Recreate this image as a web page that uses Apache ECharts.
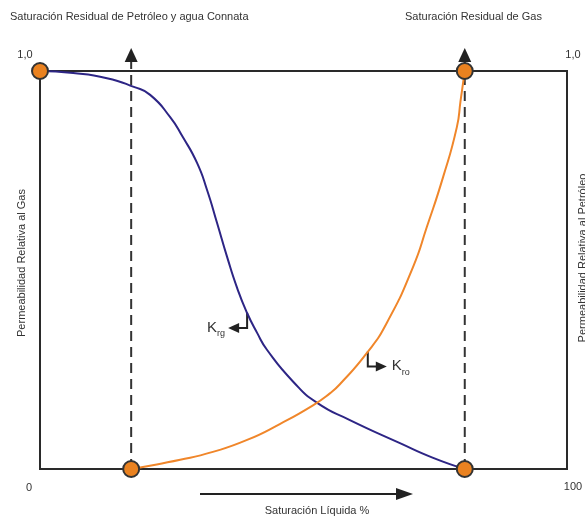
<!DOCTYPE html>
<html>
<head>
<meta charset="utf-8">
<script src="https://cdn.jsdelivr.net/npm/echarts@6/dist/echarts.min.js"></script>
<style>
    html, body {margin: 0; padding: 0; background: #fff;}
    #chart {width: 585px; height: 518px;}
</style>
</head>
<body>
<div id="chart"></div>
<script>
// Saturacion liquida (%) y permeabilidad relativa
var krgX = [0, 6.3, 12.7, 17.8, 20.9, 24.7, 27.1, 29.8, 31.7, 33.6, 35.5, 37.4, 39.3, 41.2, 43.1, 48.0, 52.6, 58.8, 68.3, 74.6, 80.6];
var krgY = [1.0, 0.995, 0.982, 0.960, 0.940, 0.884, 0.834, 0.769, 0.701, 0.618, 0.533, 0.455, 0.392, 0.342, 0.299, 0.220, 0.166, 0.123, 0.065, 0.028, 0];

var kroX = [17.3, 19.0, 26.6, 32.8, 39.3, 45.5, 51.8, 55.0, 56.9, 62.0, 65.8, 70.8, 73.4, 76.5, 79.1, 79.8, 80.6];
var kroY = [0, 0.004, 0.023, 0.043, 0.073, 0.113, 0.160, 0.190, 0.213, 0.291, 0.367, 0.508, 0.608, 0.734, 0.859, 0.925, 1.0];

// saturaciones residuales
var sorw = 17.3;   // petroleo y agua connata
var sgr = 80.6;    // gas

var endPoints = [[0, 1], [sgr, 1], [sorw, 0], [sgr, 0]];

// puntos donde salen las flechas de las etiquetas
var krgLabelAt = [39.3, 0.392];
var kroLabelAt = [62.2, 0.295];

var titleLeft = 'Saturación Residual de Petróleo y agua Connata';
var titleRight = 'Saturación Residual de Gas';
var xName = 'Saturación Líquida %';
var yNameLeft = 'Permeabilidad Relativa al Gas';
var yNameRight = 'Permeabilidad Relativa al Petróleo';

function pairs(xs, ys) {
    var out = [];
    for (var i = 0; i < xs.length; i++) {
        out.push([xs[i], ys[i]]);
    }
    return out;
}

function arrowLine(x) {
    return [
        {value: [x, 0], symbol: 'none'},
        {value: [x, 1.04], symbol: 'triangle', symbolSize: [13, 14]}
    ];
}

var font = 'Liberation Sans, Arial, sans-serif';
var txt = '#333';

var myChart = echarts.init(document.getElementById('chart'));

var option = {
    animation: false,
    textStyle: {fontFamily: font},
    grid: {
        left: 40, right: 18, top: 71, bottom: 49,
        show: true,
        borderColor: '#2a2a2a',
        borderWidth: 2,
        backgroundColor: 'transparent'
    },
    xAxis: {
        type: 'value', min: 0, max: 100,
        axisLine: {show: false}, axisTick: {show: false},
        axisLabel: {show: false}, splitLine: {show: false}
    },
    yAxis: {
        type: 'value', min: 0, max: 1,
        axisLine: {show: false}, axisTick: {show: false},
        axisLabel: {show: false}, splitLine: {show: false}
    },
    series: [
        {
            name: 'sorw',
            type: 'line',
            clip: false,
            silent: true,
            z: 1,
            lineStyle: {color: '#333', width: 2, type: [10, 6]},
            itemStyle: {color: '#222'},
            data: arrowLine(sorw)
        },
        {
            name: 'sgr',
            type: 'line',
            clip: false,
            silent: true,
            z: 1,
            lineStyle: {color: '#333', width: 2, type: [10, 6]},
            itemStyle: {color: '#222'},
            data: arrowLine(sgr)
        },
        {
            name: 'Krg',
            type: 'line',
            smooth: 0.55,
            symbol: 'none',
            z: 3,
            lineStyle: {color: '#2d2585', width: 2},
            data: pairs(krgX, krgY)
        },
        {
            name: 'Kro',
            type: 'line',
            smooth: 0.55,
            symbol: 'none',
            z: 3,
            lineStyle: {color: '#f0862a', width: 2},
            data: pairs(kroX, kroY)
        },
        {
            name: 'puntos',
            type: 'scatter',
            clip: false,
            z: 5,
            symbolSize: 16,
            itemStyle: {color: '#ea8220', borderColor: '#333', borderWidth: 2, opacity: 1},
            data: endPoints
        }
    ]
};

myChart.setOption(option);

// etiquetas con flecha acodada, ancladas a la curva
function labelArrow(at, dir, sub) {
    var p = myChart.convertToPixel({gridIndex: 0}, at);
    var x = p[0], y = p[1] + 15;
    var s = dir;   // -1 izquierda, 1 derecha
    var els = [
        {
            type: 'polyline',
            shape: {points: [[p[0], p[1]], [x, y], [x + s * 9, y]]},
            style: {stroke: '#222', lineWidth: 2, fill: null}
        },
        {
            type: 'polygon',
            shape: {points: [[x + s * 8, y - 5], [x + s * 8, y + 5], [x + s * 19, y]]},
            style: {fill: '#222'}
        },
        {
            type: 'text',
            x: s < 0 ? x - 22 : x + 24,
            y: y - 1,
            style: {
                text: '{k|K}{s|' + sub + '}',
                align: s < 0 ? 'right' : 'left',
                verticalAlign: 'middle',
                rich: {
                    k: {fontSize: 15, fill: txt, fontFamily: font, verticalAlign: 'bottom', lineHeight: 16},
                    s: {fontSize: 9, fill: txt, fontFamily: font, verticalAlign: 'bottom', lineHeight: 12, padding: [0, 0, -3, 0]}
                }
            }
        }
    ];
    return els;
}

var graphics = [
    {type: 'text', left: 10, top: 11, style: {text: titleLeft, fontSize: 11, fill: txt, fontFamily: font}},
    {type: 'text', left: 405, top: 11, style: {text: titleRight, fontSize: 11, fill: txt, fontFamily: font}},
    {type: 'text', x: 25, y: 55, style: {text: '1,0', fontSize: 11, fill: txt, fontFamily: font, align: 'center', verticalAlign: 'middle'}},
    {type: 'text', x: 573, y: 55, style: {text: '1,0', fontSize: 11, fill: txt, fontFamily: font, align: 'center', verticalAlign: 'middle'}},
    {type: 'text', x: 29, y: 488, style: {text: '0', fontSize: 11, fill: txt, fontFamily: font, align: 'center', verticalAlign: 'middle'}},
    {type: 'text', x: 573, y: 487, style: {text: '100', fontSize: 11, fill: txt, fontFamily: font, align: 'center', verticalAlign: 'middle'}},
    {type: 'text', x: 317, y: 511, style: {text: xName, fontSize: 11, fill: txt, fontFamily: font, align: 'center', verticalAlign: 'middle'}},
    {type: 'text', x: 22, y: 263, rotation: Math.PI / 2, style: {text: yNameLeft, fontSize: 11, fill: txt, fontFamily: font, align: 'center', verticalAlign: 'middle'}},
    {type: 'text', x: 583, y: 258, rotation: Math.PI / 2, style: {text: yNameRight, fontSize: 11, fill: txt, fontFamily: font, align: 'center', verticalAlign: 'middle'}},
    {type: 'line', shape: {x1: 200, y1: 494, x2: 398, y2: 494}, style: {stroke: '#222', lineWidth: 2}},
    {type: 'polygon', shape: {points: [[396, 488], [396, 500], [413, 494]]}, style: {fill: '#222'}}
];

graphics = graphics.concat(labelArrow(krgLabelAt, -1, 'rg'), labelArrow(kroLabelAt, 1, 'ro'));

myChart.setOption({graphic: graphics});
</script>
</body>
</html>
